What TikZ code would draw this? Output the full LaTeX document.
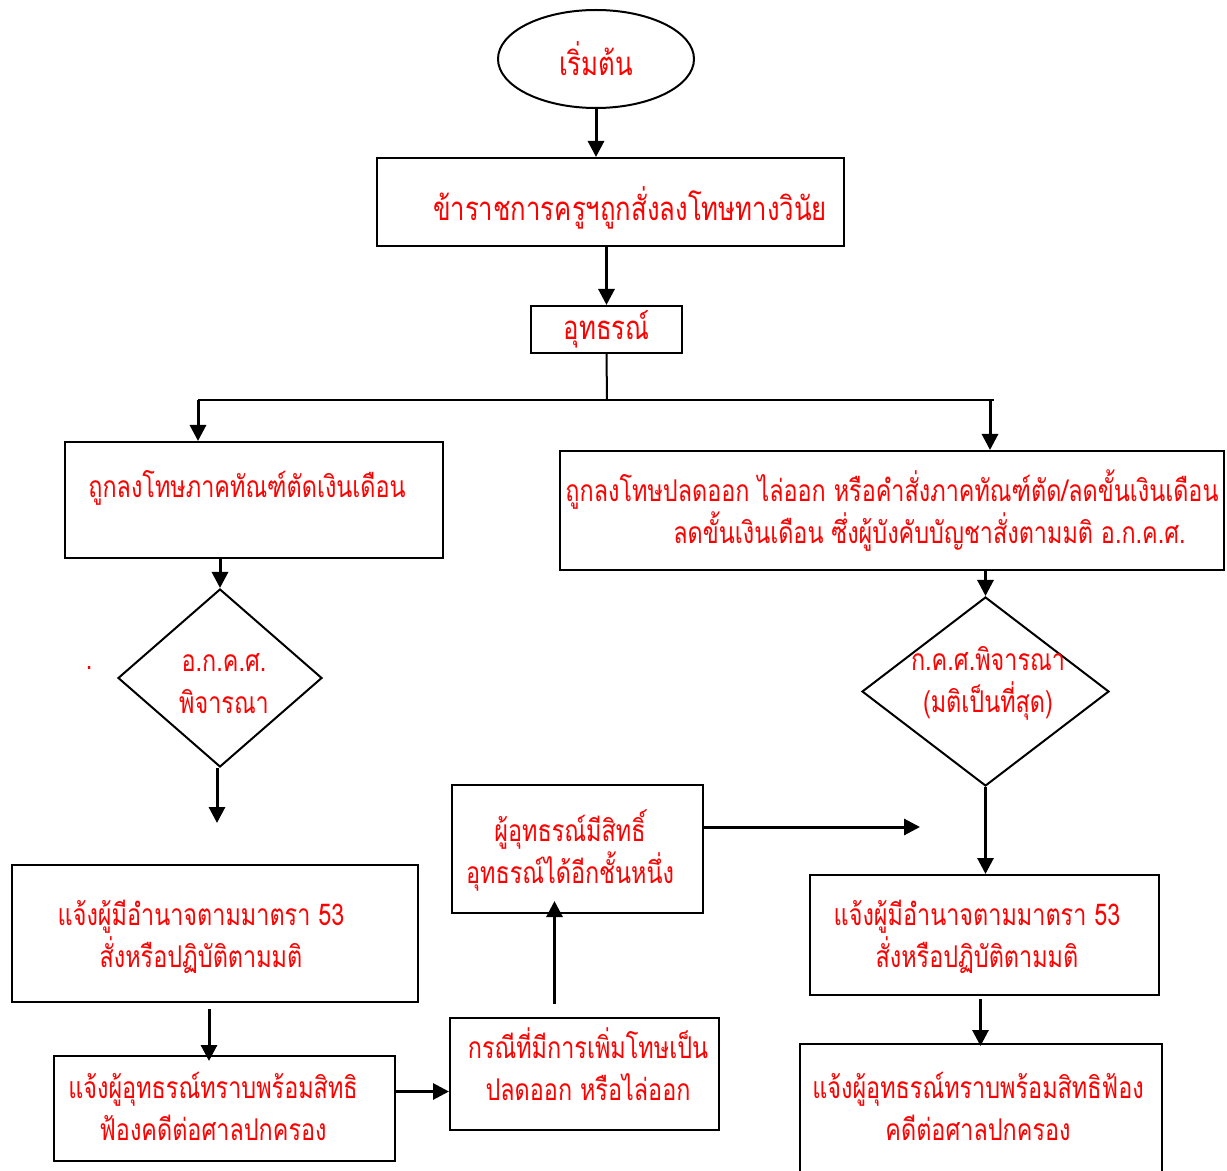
\documentclass[tikz,border=0pt]{standalone}
\usepackage{fontspec}
\newfontfamily\thaifont[Script=Thai, FakeStretch=0.78]{Loma}
\usetikzlibrary{positioning, shapes.geometric, arrows.meta}
\tikzset{
    kasten/.style={
        rectangle,
        draw=black,
        fill=white,
        line width=1pt,
        inner sep=0pt
    },
    raute/.style={
        diamond,
        draw=black,
        fill=white,
        line width=1pt,
        inner sep=0pt
    },
    oval/.style={
        ellipse,
        draw=black,
        fill=white,
        line width=1pt,
        inner sep=0pt
    },
    schrift/.style={
        text=red,
        font=\thaifont\fontsize{15}{21}\selectfont,
        align=center,
        inner sep=0pt
    },
    gross/.style={
        font=\thaifont\fontsize{16.5}{21}\selectfont
    },
    pfeil/.style={
        line width=1.5pt,
        -{Triangle[length=8pt,width=8pt]}
    }
}

\begin{document}
\begin{tikzpicture}[x=0.5pt, y=-0.5pt]

    \clip (0,0) rectangle (1227,1171);

    % Start
    \node[oval, schrift, gross, minimum width=98pt, minimum height=49pt] (start) at (596,59) {เริ่มต้น};

    % Oberer Kasten
    \node[kasten, minimum width=233.5pt, minimum height=44pt] (dienst) at (610.5,202) {};
    \node[schrift, gross] (dienst-t) at (630,208) {ข้าราชการครูฯถูกสั่งลงโทษทางวินัย};

    % Berufung
    \node[kasten, schrift, gross, minimum width=75.5pt, minimum height=23.5pt] (berufung) at (606.5,329.5) {อุทธรณ์};

    % Linker Zweig
    \node[kasten, minimum width=189pt, minimum height=58pt] (kuerzung) at (254,500) {};
    \node[schrift, anchor=west] (kuerzung-t) at (88,488) {ถูกลงโทษภาคทัณฑ์ตัดเงินเดือน};

    \node[raute, minimum width=102pt, minimum height=89pt] (akks) at (220,678) {};
    \node[schrift] (akks-t) at (224,684) {อ.ก.ค.ศ.\\พิจารณา};
    \node[schrift] (punkt) at (89,668) {.};

    \node[kasten, minimum width=203pt, minimum height=68.5pt] (melden) at (215,933.5) {};
    \node[schrift] (melden-t) at (201,937) {แจ้งผู้มีอำนาจตามมาตรา 53\\สั่งหรือปฏิบัติตามมติ};

    \node[kasten, minimum width=170.5pt, minimum height=52.5pt] (klage) at (224.5,1108.5) {};
    \node[schrift] (klage-t) at (213,1106) {แจ้งผู้อุทธรณ์ทราบพร้อมสิทธิ\\ฟ้องคดีต่อศาลปกครอง};

    % Mitte unten
    \node[kasten, minimum width=134.5pt, minimum height=56pt] (verschaerft) at (584.5,1074) {};
    \node[schrift] (verschaerft-t) at (588,1064) {กรณีที่มีการเพิ่มโทษเป็น\\ปลดออก หรือไล่ออก};

    \node[kasten, minimum width=125.5pt, minimum height=64pt] (weiter) at (577.5,849) {};
    \node[schrift] (weiter-t) at (570,851) {ผู้อุทธรณ์มีสิทธิ์\\อุทธรณ์ได้อีกชั้นหนึ่ง};

    % Rechter Zweig
    \node[kasten, schrift, minimum width=332pt, minimum height=59.5pt] (entlassung) at (892,510.5) {ถูกลงโทษปลดออก ไล่ออก หรือคำสั่งภาคทัณฑ์ตัด/ลดขั้นเงินเดือน\\\hspace*{2.5em}ลดขั้นเงินเดือน ซึ่งผู้บังคับบัญชาสั่งตามมติ อ.ก.ค.ศ.};

    \node[raute, minimum width=123.5pt, minimum height=94.5pt] (kks) at (985.5,691.5) {};
    \node[schrift] (kks-t) at (988,683) {ก.ค.ศ.พิจารณา\\(มติเป็นที่สุด)};

    \node[kasten, minimum width=174.5pt, minimum height=60pt] (melden2) at (984.5,935) {};
    \node[schrift] (melden2-t) at (977,937) {แจ้งผู้มีอำนาจตามมาตรา 53\\สั่งหรือปฏิบัติตามมติ};

    \node[kasten, minimum width=181pt, minimum height=100pt] (klage2) at (981,1144) {};
    \node[schrift] (klage2-t) at (978,1106) {แจ้งผู้อุทธรณ์ทราบพร้อมสิทธิฟ้อง\\คดีต่อศาลปกครอง};

    % Hilfspunkte
    \coordinate (gabel) at (607,400);
    \coordinate (gabelL) at (198,400);
    \coordinate (gabelR) at (994,400);
    \coordinate (offen1) at (217,823);
    \coordinate (offen2) at (920,827);

    % Verbindungen
    \draw[pfeil] (start) -- (start |- dienst.north);
    \draw[pfeil] (berufung.north |- dienst.south) -- (berufung.north);
    \draw[line width=1pt] (berufung.south) -- (gabel);
    \draw[line width=1pt] (gabelL) -- (gabelR);
    \draw[pfeil] (gabelL) -- (gabelL |- kuerzung.north);
    \draw[pfeil] ([xshift=-2pt]gabelR) -- ([xshift=-2pt]gabelR |- entlassung.north);
    \draw[pfeil] (kuerzung.south -| akks.north) -- (akks.north);
    \draw[pfeil] (offen1 |- akks.south) -- (offen1);
    \draw[pfeil] ([shift={(-6,6)}]melden.south) -- ([shift={(-6,6)}]melden.south |- klage.north);
    \draw[pfeil] ([shift={(0,-17)}]klage.east) -- ([shift={(0,-17)}]klage.east -| verschaerft.west);
    \draw[pfeil] ([shift={(-30,-13)}]verschaerft.north) -- ([shift={(-30,-13)}]verschaerft.north |- weiter.south);
    \draw[pfeil] (weiter.east |- offen2) -- (offen2);
    \draw[pfeil] (entlassung.south -| kks.north) -- (kks.north);
    \draw[pfeil] (kks.south) -- (kks.south |- melden2.north);
    \draw[pfeil] ([shift={(-4,3)}]melden2.south) -- ([shift={(-4,3)}]melden2.south |- klage2.north);

\end{tikzpicture}
\end{document}
